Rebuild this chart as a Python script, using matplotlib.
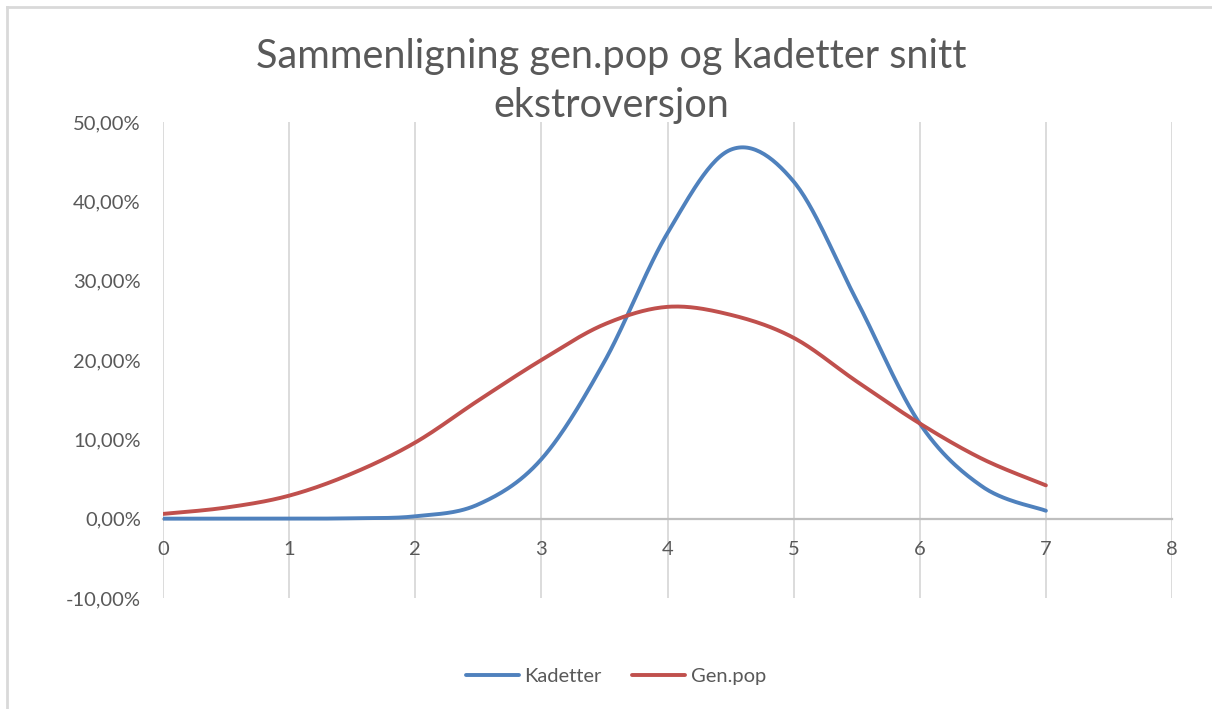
import numpy as np
import matplotlib
matplotlib.use("Agg")
import matplotlib.pyplot as plt
from matplotlib.ticker import FuncFormatter, MultipleLocator
from matplotlib.lines import Line2D

# -------------------------------------------------------------------
# Data (values in percent)
# -------------------------------------------------------------------
x_vals = [0, 0.5, 1, 1.5, 2, 2.5, 3, 3.5, 4, 4.5, 5, 5.5, 6, 6.5, 7]
kadetter = [0.0, 0.0, 0.0, 0.05, 0.3, 1.8, 7.5, 19.8, 36.0, 46.5, 42.5, 27.5, 12.0, 4.0, 1.0]
gen_pop = [0.6, 1.4, 2.9, 5.7, 9.6, 14.9, 20.0, 24.5, 26.7, 25.7, 22.8, 17.3, 12.0, 7.5, 4.2]

title = "Sammenligning gen.pop og kadetter snitt\nekstroversjon"
series_names = ["Kadetter", "Gen.pop"]
colors = ["#4F81BD", "#C0504D"]

plt.rcParams['font.family'] = ['Lato', 'DejaVu Sans']
TXT = "#595959"


# Excel-like smoothed line (Catmull-Rom through the points)
def smooth(xs, ys, n=30):
    p = np.column_stack([xs, ys]).astype(float)
    p = np.vstack([p[0], p, p[-1]])
    out = []
    t = np.linspace(0, 1, n, endpoint=False)[:, None]
    for i in range(1, len(p) - 2):
        p0, p1, p2, p3 = p[i - 1], p[i], p[i + 1], p[i + 2]
        seg = 0.5 * ((2 * p1) + (-p0 + p2) * t
                     + (2 * p0 - 5 * p1 + 4 * p2 - p3) * t ** 2
                     + (-p0 + 3 * p1 - 3 * p2 + p3) * t ** 3)
        out.append(seg)
    out.append(p[-2][None, :])
    out = np.vstack(out)
    return out[:, 0], out[:, 1]


fig = plt.figure(figsize=(12.12, 7.09), dpi=100)

# chart frame: only top and left edges are inside the screenshot
W, H = 1212, 709
fig.add_artist(Line2D([7 / W, 1.0], [1 - 7 / H, 1 - 7 / H], color="#D9D9D9", linewidth=2))
fig.add_artist(Line2D([7 / W, 7 / W], [0, 1 - 7 / H], color="#D9D9D9", linewidth=2))

ax = fig.add_axes([163 / W, 1 - 598 / H, (1172 - 163) / W, (598 - 122) / H])

for ys, c, name in zip([kadetter, gen_pop], colors, series_names):
    sx, sy = smooth(x_vals, ys)
    ax.plot(sx, sy, color=c, linewidth=2.8, solid_capstyle="round", label=name, zorder=3)

ax.set_xlim(0, 8)
ax.set_ylim(-10, 50)
ax.xaxis.set_major_locator(MultipleLocator(1))
ax.yaxis.set_major_locator(MultipleLocator(10))
ax.yaxis.set_major_formatter(FuncFormatter(lambda v, p: f"{v:.2f}%".replace(".", ",")))

ax.grid(axis="x", color="#D9D9D9", linewidth=1.3)
for gl in ax.get_xgridlines():
    gl.set_clip_on(False)
ax.set_axisbelow(True)

for s in ["top", "right", "left"]:
    ax.spines[s].set_visible(False)
ax.spines["bottom"].set_position(("data", 0))
ax.spines["bottom"].set_color("#BFBFBF")
ax.spines["bottom"].set_linewidth(1.6)
ax.spines["bottom"].set_zorder(2)

ax.tick_params(axis="x", length=0, pad=16, labelsize=14.5, labelcolor=TXT)
ax.tick_params(axis="y", length=0, pad=16, labelsize=14.5, labelcolor=TXT)

fig.text(0.504, 1 - 81 / H, title, ha="center", va="center", fontsize=28.5,
         color=TXT, linespacing=1.42)

handles = [Line2D([0], [0], color=c, linewidth=2.8, solid_capstyle="round") for c in colors]
fig.legend(handles, series_names, loc="center", bbox_to_anchor=(616 / W, 1 - 676 / H),
           ncol=2, frameon=False, fontsize=14.5, labelcolor=TXT, handlelength=2.6,
           handletextpad=0.3, columnspacing=1.5)

fig.savefig("out.png", dpi=100)
